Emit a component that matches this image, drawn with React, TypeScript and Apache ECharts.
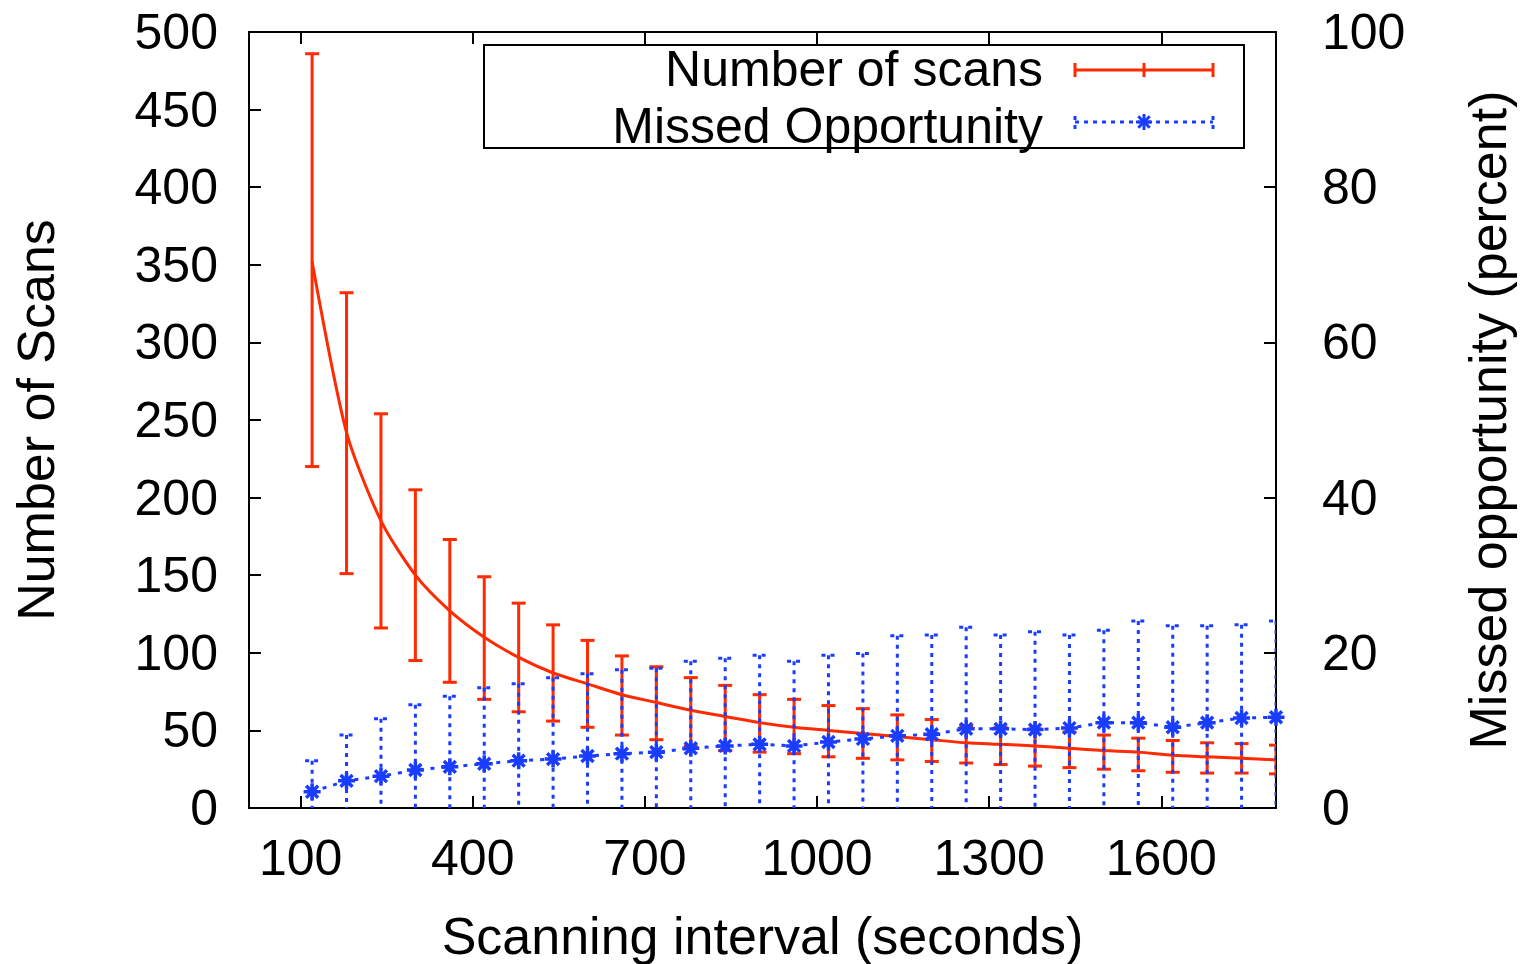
import React, { useEffect, useRef } from "react";
import * as echarts from "echarts";

// Scanning interval (seconds)
const intervals = [120, 180, 240, 300, 360, 420, 480, 540, 600, 660, 720, 780, 840, 900, 960, 1020, 1080, 1140, 1200, 1260, 1320, 1380, 1440, 1500, 1560, 1620, 1680, 1740, 1800];
// Number of scans: mean, lower and upper error bar ends
const scansMean = [352, 242, 185, 150, 127, 110, 97, 87, 80, 73, 68, 63, 59, 55, 52, 50, 48, 46, 44, 42, 41, 40, 38.5, 37, 36, 34, 33, 32, 31];
const scansLow = [220, 151, 116, 95, 81, 70, 62, 56, 52, 47, 44, 40, 37, 36, 35, 33, 32, 31, 30, 29, 28, 27, 26, 25, 24, 23, 22.5, 22.5, 22];
const scansHigh = [486, 332, 254, 205, 173, 149, 132, 118, 108, 98, 91, 84, 79, 73, 70, 66, 64, 60, 57, 53, 52, 51, 49, 47, 45, 43.5, 42, 41.5, 40.5];
// Missed opportunity (percent): mean and error half-width
const missedMean = [2.1, 3.5, 4.1, 4.9, 5.3, 5.7, 6.1, 6.3, 6.7, 7.0, 7.2, 7.7, 8.0, 8.2, 8.0, 8.5, 8.9, 9.3, 9.5, 10.2, 10.2, 10.1, 10.3, 11.0, 11.0, 10.4, 11.0, 11.6, 11.7];
const missedErr = [4.0, 5.9, 7.4, 8.4, 9.1, 9.8, 9.9, 10.5, 10.6, 10.8, 10.8, 11.2, 11.3, 11.5, 10.9, 11.2, 11.0, 12.9, 12.8, 13.1, 12.1, 12.6, 12.0, 11.9, 13.1, 13.1, 12.5, 12.0, 12.4];
const xTickValues = [100, 400, 700, 1000, 1300, 1600];

const RED = "#ff2a00";
const BLUE = "#1a3cff";
const FONT = "'Liberation Sans', Arial, Helvetica, sans-serif";
const ASTERISK = "path://M10,0L10,20M0,10L20,10M3,3L17,17M3,17L17,3";

function errorBars(color: string, dash: number[] | null, capHalf: number) {
  return (params: any, api: any) => {
    const x = api.value(0);
    const lo = api.coord([x, api.value(1)]);
    const hi = api.coord([x, api.value(2)]);
    const style: any = { stroke: color, lineWidth: 3, fill: null };
    if (dash) style.lineDash = dash;
    return {
      type: "group",
      children: [
        { type: "line", shape: { x1: hi[0], y1: hi[1], x2: lo[0], y2: lo[1] }, style },
        { type: "line", shape: { x1: hi[0] - capHalf, y1: hi[1], x2: hi[0] + capHalf, y2: hi[1] }, style },
        { type: "line", shape: { x1: lo[0] - capHalf, y1: lo[1], x2: lo[0] + capHalf, y2: lo[1] }, style },
      ],
    };
  };
}

export default function App() {
  const ref = useRef<HTMLDivElement>(null);
  useEffect(() => {
    if (!ref.current) return;
    const chart = echarts.init(ref.current, null, { renderer: "svg" });
    const axisText = { color: "#000", fontSize: 50, fontFamily: FONT };
    const nameText = { color: "#000", fontSize: 52, fontFamily: FONT };
    const lineAxis = { show: true, onZero: false, lineStyle: { color: "#000", width: 2 } };
    const tick = { show: true, inside: true, length: 12, lineStyle: { color: "#000", width: 2 } };
    const plain = (v: number) => String(v);

    const legendY1 = 69;
    const legendY2 = 126;
    const ast = (cx: number, cy: number, r: number) => {
      const d = r * 0.72;
      const s = { stroke: BLUE, lineWidth: 3 };
      return [
        { type: "line", shape: { x1: cx, y1: cy - r, x2: cx, y2: cy + r }, style: s },
        { type: "line", shape: { x1: cx - r, y1: cy, x2: cx + r, y2: cy }, style: s },
        { type: "line", shape: { x1: cx - d, y1: cy - d, x2: cx + d, y2: cy + d }, style: s },
        { type: "line", shape: { x1: cx - d, y1: cy + d, x2: cx + d, y2: cy - d }, style: s },
      ];
    };
    const redS = { stroke: RED, lineWidth: 3 };
    const blueS = { stroke: BLUE, lineWidth: 3, lineDash: [4, 5] };

    chart.setOption({
      animation: false,
      backgroundColor: "#fff",
      grid: { left: 249, top: 32, width: 1027, height: 776, show: false, outerBoundsMode: "none", containLabel: false },
      xAxis: [
        {
          type: "value",
          min: 10,
          max: 1800,
          position: "bottom",
          axisLine: lineAxis,
          axisTick: { ...tick, customValues: xTickValues },
          axisLabel: { ...axisText, margin: 25, customValues: xTickValues, formatter: plain },
          splitLine: { show: false },
          name: "Scanning interval (seconds)",
          nameLocation: "middle",
          nameGap: 102,
          nameTextStyle: nameText,
        },
        {
          type: "value",
          min: 10,
          max: 1800,
          position: "top",
          axisLine: lineAxis,
          axisTick: { ...tick, customValues: xTickValues },
          axisLabel: { show: false, customValues: xTickValues },
          splitLine: { show: false },
        },
      ],
      yAxis: [
        {
          type: "value",
          min: 0,
          max: 500,
          interval: 50,
          position: "left",
          axisLine: lineAxis,
          axisTick: tick,
          axisLabel: { ...axisText, margin: 31, formatter: plain },
          splitLine: { show: false },
          name: "Number of Scans",
          nameLocation: "middle",
          nameGap: 187,
          nameTextStyle: nameText,
        },
        {
          type: "value",
          min: 0,
          max: 100,
          interval: 20,
          position: "right",
          axisLine: lineAxis,
          axisTick: tick,
          axisLabel: { ...axisText, margin: 46, formatter: plain },
          splitLine: { show: false },
          name: "Missed opportunity (percent)",
          nameLocation: "middle",
          nameGap: 186,
          nameTextStyle: nameText,
        },
      ],
      series: [
        {
          type: "custom",
          name: "Number of scans error",
          xAxisIndex: 0,
          yAxisIndex: 0,
          z: 2,
          clip: true,
          encode: { x: 0, y: [1, 2] },
          data: intervals.map((x, i) => [x, scansLow[i], scansHigh[i]]),
          renderItem: errorBars(RED, null, 7),
        },
        {
          type: "line",
          name: "Number of scans",
          xAxisIndex: 0,
          yAxisIndex: 0,
          z: 3,
          showSymbol: false,
          smooth: 0.25,
          data: intervals.map((x, i) => [x, scansMean[i]]),
          lineStyle: { color: RED, width: 3 },
          itemStyle: { color: RED },
        },
        {
          type: "custom",
          name: "Missed Opportunity error",
          xAxisIndex: 0,
          yAxisIndex: 1,
          z: 4,
          clip: true,
          encode: { x: 0, y: [1, 2] },
          data: intervals.map((x, i) => [x, missedMean[i] - missedErr[i], missedMean[i] + missedErr[i]]),
          renderItem: errorBars(BLUE, [4, 5], 7),
        },
        {
          type: "line",
          name: "Missed Opportunity",
          xAxisIndex: 0,
          yAxisIndex: 1,
          z: 5,
          symbol: ASTERISK,
          symbolSize: 17,
          showSymbol: true,
          data: intervals.map((x, i) => [x, missedMean[i]]),
          lineStyle: { color: BLUE, width: 3, type: [4, 7] },
          itemStyle: { color: BLUE, borderColor: BLUE, borderWidth: 3.5 },
        },
      ],
      graphic: [
        {
          type: "group",
          z: 100,
          children: [
            { type: "rect", shape: { x: 484, y: 45, width: 760, height: 103 }, style: { fill: "#fff", stroke: "#000", lineWidth: 2 } },
            { type: "text", x: 1043, y: legendY1, style: { text: "Number of scans", fill: "#000", font: `50px ${FONT}`, lineHeight: 46, align: "right", verticalAlign: "middle" } },
            { type: "text", x: 1043, y: legendY2, style: { text: "Missed Opportunity", fill: "#000", font: `50px ${FONT}`, lineHeight: 46, align: "right", verticalAlign: "middle" } },
            { type: "line", shape: { x1: 1075, y1: 70, x2: 1213, y2: 70 }, style: redS },
            { type: "line", shape: { x1: 1075, y1: 63, x2: 1075, y2: 77 }, style: redS },
            { type: "line", shape: { x1: 1213, y1: 63, x2: 1213, y2: 77 }, style: redS },
            { type: "line", shape: { x1: 1144, y1: 63, x2: 1144, y2: 77 }, style: redS },
            { type: "line", shape: { x1: 1075, y1: 122, x2: 1213, y2: 122 }, style: blueS },
            { type: "line", shape: { x1: 1075, y1: 116, x2: 1075, y2: 129 }, style: blueS },
            { type: "line", shape: { x1: 1213, y1: 116, x2: 1213, y2: 129 }, style: blueS },
            ...ast(1144, 122, 8),
          ],
        },
      ],
    });
    return () => chart.dispose();
  }, []);
  return <div ref={ref} style={{ position: "fixed", left: 0, top: 0, width: 1521, height: 964 }} />;
}
